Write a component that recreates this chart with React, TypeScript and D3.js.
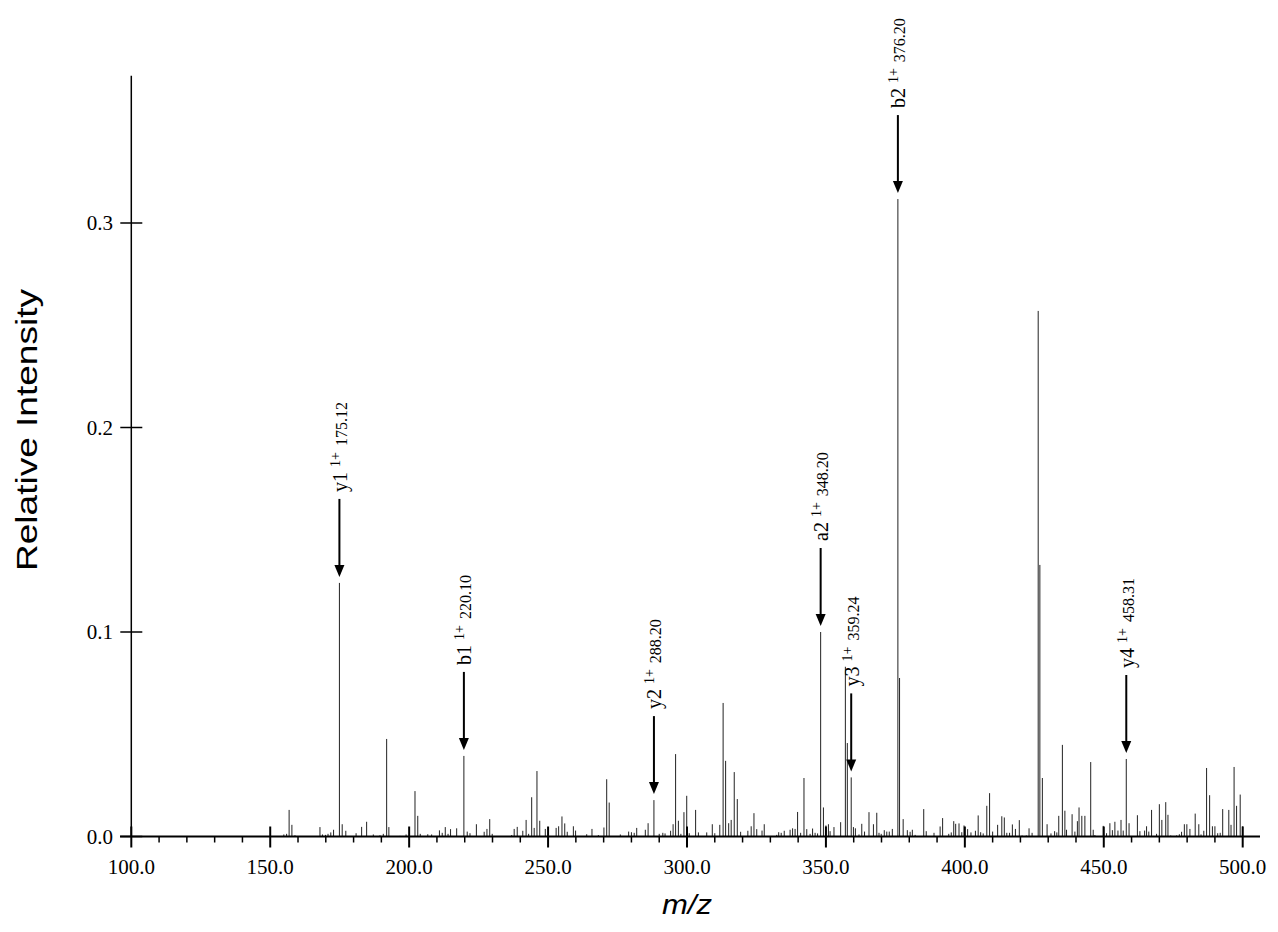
import React from "react";
import * as d3 from "d3";

// m/z of every peak (observed) and relative intensity
const peakMz = [
  154.9, 155.9, 156.8, 157.8, 158.9, 167.9, 168.8, 169.9, 170.8, 171.8, 172.8, 174.9,
  175.9, 177.2, 180.9, 182.9, 184.7, 187.1, 189.5, 190.7, 191.9, 192.7,
  196.7, 198.9, 202.1, 203.1, 204.0, 206.7, 208.1, 210.9, 211.9, 213.0, 214.0, 214.9,
  217.1, 219.7, 220.9, 221.9, 224.2, 227.0, 228.0, 229.0, 229.9, 236.9, 237.8, 238.9,
  240.9, 242.1, 243.0, 244.1, 245.0, 246.0, 247.0, 249.0, 252.9, 253.8, 255.0, 256.0,
  256.9, 259.1, 259.9, 263.9, 265.8, 268.1, 270.1, 271.1, 272.0, 276.0, 279.0, 280.0,
  281.0, 281.9, 285.0, 286.0, 288.1, 290.0, 291.3, 292.1, 294.1, 295.0, 295.9, 296.9,
  297.8, 298.9, 299.9, 300.8, 303.1, 304.1, 307.1, 309.1, 310.0, 311.8, 313.0, 313.9,
  315.0, 315.9, 317.0, 318.1, 319.3, 321.9, 323.1, 324.1, 325.1, 327.0, 327.8, 332.3,
  333.0, 333.9, 335.0, 337.1, 338.0, 338.9, 339.8, 340.9, 342.1, 343.1, 344.3, 345.2,
  346.1, 347.0, 348.1, 349.1, 350.0, 350.9, 351.5, 352.9, 355.3, 357.0, 357.7, 359.1,
  359.9, 360.6, 361.9, 362.9, 363.9, 365.5, 367.1, 368.3, 369.1, 369.9, 371.0, 371.9,
  372.8, 373.9, 375.9, 376.5, 377.8, 379.3, 380.3, 381.1, 382.1, 385.2, 386.1, 388.9,
  391.1, 392.0, 394.2, 395.1, 396.0, 396.7, 397.9, 398.9, 399.7, 401.0, 402.2, 403.8,
  404.8, 405.7, 406.6, 407.9, 408.9, 410.0, 411.8, 413.3, 414.2, 415.1, 416.1, 417.1,
  418.2, 419.6, 420.6, 422.1, 423.1, 424.2, 426.4, 427.0, 427.9, 429.6, 431.0, 432.3,
  433.1, 433.8, 435.1, 436.0, 436.6, 438.6, 439.6, 440.5, 441.1, 442.1, 443.2, 445.3,
  446.2, 446.8, 449.8, 451.0, 452.2, 453.1, 454.0, 455.1, 456.2, 457.0, 458.1, 459.1,
  462.1, 463.0, 464.7, 465.4, 466.2, 467.2, 469.0, 470.0, 470.9, 472.3, 473.1, 474.1,
  476.2, 477.2, 478.0, 479.0, 479.9, 481.0, 482.9, 484.2, 485.0, 486.0, 487.0, 488.1,
  489.1, 490.0, 491.0, 491.9, 492.8, 495.0, 495.8, 496.9, 497.8, 499.1, 500.0,
];

const peakIntensity = [
  0.001, 0.0013, 0.013, 0.0057, 0.0006, 0.0046, 0.001, 0.0008, 0.0013, 0.002, 0.0033, 0.124,
  0.006, 0.0028, 0.0016, 0.0047, 0.0072, 0.001, 0.0006, 0.0013, 0.0477, 0.0046,
  0.0003, 0.001, 0.0222, 0.0101, 0.0013, 0.0011, 0.001, 0.003, 0.0018, 0.0046, 0.0013, 0.0036,
  0.004, 0.0394, 0.0024, 0.0016, 0.006, 0.0023, 0.0037, 0.0085, 0.0013, 0.0007, 0.0037, 0.0047,
  0.0028, 0.0081, 0.0013, 0.0192, 0.0042, 0.032, 0.0077, 0.0037, 0.0042, 0.005, 0.0098, 0.0064,
  0.0023, 0.005, 0.0029, 0.0011, 0.0037, 0.0007, 0.0044, 0.028, 0.0166, 0.001, 0.0024, 0.0021,
  0.0018, 0.0042, 0.0033, 0.0065, 0.0178, 0.0013, 0.0018, 0.0015, 0.0028, 0.006, 0.0403, 0.0077,
  0.0013, 0.0119, 0.0199, 0.0016, 0.013, 0.002, 0.002, 0.006, 0.0016, 0.0057, 0.0653, 0.037,
  0.0065, 0.0081, 0.0315, 0.0183, 0.0023, 0.0028, 0.005, 0.0114, 0.0036, 0.0029, 0.006, 0.0008,
  0.0021, 0.0018, 0.0028, 0.0033, 0.004, 0.0037, 0.012, 0.0018, 0.0286, 0.0036, 0.0013, 0.0039,
  0.0018, 0.0015, 0.1, 0.0142, 0.0054, 0.006, 0.0026, 0.0046, 0.007, 0.083, 0.0457, 0.0289,
  0.0046, 0.004, 0.001, 0.0062, 0.0024, 0.0119, 0.006, 0.0116, 0.0018, 0.0013, 0.0031, 0.0024,
  0.0024, 0.0037, 0.3117, 0.0775, 0.0085, 0.0031, 0.0023, 0.0033, 0.0008, 0.0134, 0.0026, 0.0018,
  0.0049, 0.009, 0.0013, 0.002, 0.0075, 0.0062, 0.0064, 0.0021, 0.0054, 0.0036, 0.002, 0.0028,
  0.0103, 0.0021, 0.0015, 0.015, 0.0212, 0.0024, 0.0057, 0.0099, 0.0093, 0.0018, 0.0018, 0.0059,
  0.0037, 0.008, 0.0005, 0.0005, 0.004, 0.0018, 0.257, 0.1328, 0.0286, 0.006, 0.0015, 0.0026,
  0.002, 0.0101, 0.0448, 0.0126, 0.0033, 0.0109, 0.0024, 0.0075, 0.0142, 0.0101, 0.0101, 0.0364,
  0.0033, 0.0007, 0.0052, 0.0016, 0.0065, 0.0031, 0.0072, 0.0029, 0.0081, 0.0029, 0.0379, 0.0065,
  0.0104, 0.0026, 0.0029, 0.005, 0.0024, 0.013, 0.0013, 0.0158, 0.0081, 0.0168, 0.0106, 0.0005,
  0.0005, 0.0011, 0.0023, 0.006, 0.006, 0.0037, 0.0112, 0.006, 0.001, 0.0028, 0.0335, 0.0202,
  0.005, 0.005, 0.0016, 0.0018, 0.0134, 0.013, 0.0057, 0.034, 0.015, 0.0205, 0.005,
];

// annotated fragment ions
const annIon = ["y1", "b1", "y2", "a2", "y3", "b2", "y4"];
const annCharge = ["1+", "1+", "1+", "1+", "1+", "1+", "1+"];
const annLabel = ["175.12", "220.10", "288.20", "348.20", "359.24", "376.20", "458.31"];
const annPeakMz = [174.9, 219.7, 288.1, 348.1, 359.1, 375.9, 458.1];

const xMajorTicks = [100, 150, 200, 250, 300, 350, 400, 450, 500];
const xMinorTicks = d3.range(100, 501, 10).filter((v) => v % 50 !== 0);
const yTicks = [0, 0.1, 0.2, 0.3];

const W = 1278;
const H = 932;

export default function App() {
  const x = d3.scaleLinear().domain([100, 500]).range([131.3, 1242.7]);
  const y = d3.scaleLinear().domain([0, 0.1]).range([836.5, 632]);
  const yTop = 0.372;
  const serif = "'Liberation Serif', 'Times New Roman', serif";
  const sans = "'Liberation Sans', Arial, sans-serif";

  const peaks = peakMz.map((m, i) => ({ m, v: peakIntensity[i] }));

  const anns = annIon.map((ion, i) => {
    const m = annPeakMz[i];
    const idx = peakMz.indexOf(m);
    const v = peakIntensity[idx];
    return { ion, charge: annCharge[i], label: annLabel[i], m, v };
  });

  return (
    <svg
      width={W}
      height={H}
      style={{ position: "absolute", left: 0, top: 0, background: "#fff" }}
    >
      <rect x={0} y={0} width={W} height={H} fill="#fff" />
      {/* peaks */}
      <g stroke="#222" strokeWidth={1}>
        {peaks.map((p, i) => (
          <line key={i} x1={x(p.m)} x2={x(p.m)} y1={y(0)} y2={y(p.v)} />
        ))}
      </g>

      {/* y axis */}
      <line x1={x(100)} x2={x(100)} y1={y(0)} y2={y(yTop)} stroke="#000" strokeWidth={1.5} />
      {yTicks.map((t) => (
        <g key={t}>
          <line x1={x(100) - 11} x2={x(100) + 11} y1={y(t)} y2={y(t)} stroke="#000" strokeWidth={1.5} />
          <text
            x={113}
            y={y(t) + 7}
            textAnchor="end"
            fontFamily={serif}
            fontSize={21}
            fill="#000"
          >
            {t.toFixed(1)}
          </text>
        </g>
      ))}

      {/* x axis */}
      <line x1={120} x2={1260} y1={y(0)} y2={y(0)} stroke="#000" strokeWidth={2} />
      {xMinorTicks.map((t) => (
        <line key={t} x1={x(t)} x2={x(t)} y1={y(0)} y2={y(0) + 6} stroke="#000" strokeWidth={1.5} />
      ))}
      {xMajorTicks.map((t) => (
        <g key={t}>
          <line x1={x(t)} x2={x(t)} y1={y(0) - 10} y2={y(0) + 11} stroke="#000" strokeWidth={2} />
          <text
            x={x(t)}
            y={874}
            textAnchor="middle"
            fontFamily={serif}
            fontSize={21}
            fill="#000"
          >
            {t.toFixed(1)}
          </text>
        </g>
      ))}

      {/* annotations */}
      {anns.map((a, i) => {
        const px = x(a.m);
        const top = y(a.v);
        const tip = top - 6;
        const tail = top - 84;
        const labelStart = top - 91;
        return (
          <g key={i}>
            <line x1={px} x2={px} y1={tail} y2={tip - 10} stroke="#000" strokeWidth={2} />
            <path
              d={`M${px - 5},${tip - 12} L${px + 5},${tip - 12} L${px},${tip} Z`}
              fill="#000"
            />
            <text
              transform={`translate(${px + 7.5},${labelStart}) rotate(-90)`}
              fontFamily={serif}
              fill="#000"
            >
              <tspan fontSize={20}>{a.ion}</tspan>
              <tspan fontSize={14} dx={5} dy={-7}>
                {a.charge}
              </tspan>
              <tspan fontSize={16} dx={6} dy={7}>
                {a.label}
              </tspan>
            </text>
          </g>
        );
      })}

      {/* axis titles */}
      <text
        transform={`translate(37,430) rotate(-90)`}
        textAnchor="middle"
        fontFamily={sans}
        fontSize={30}
        textLength={282}
        lengthAdjust="spacingAndGlyphs"
        fill="#000"
      >
        Relative Intensity
      </text>
      <text
        x={687}
        y={914}
        textAnchor="middle"
        fontFamily={sans}
        fontStyle="italic"
        fontSize={27}
        textLength={50}
        lengthAdjust="spacingAndGlyphs"
        fill="#000"
      >
        m/z
      </text>
    </svg>
  );
}
